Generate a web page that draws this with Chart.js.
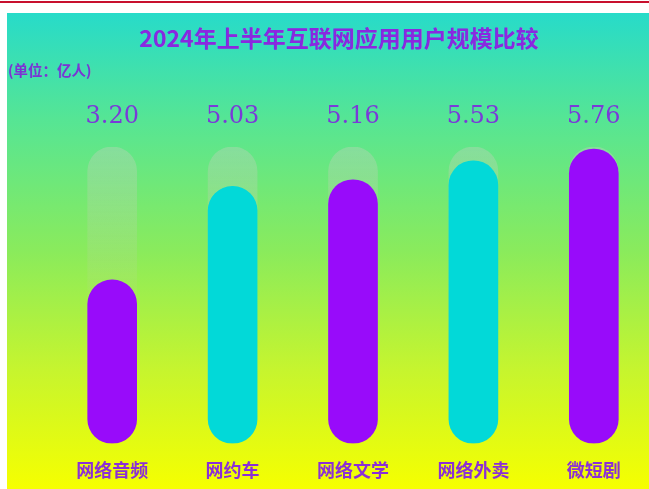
<!DOCTYPE html>
<html>
<head>
<meta charset="utf-8">
<script src="https://cdn.jsdelivr.net/npm/chart.js@4"></script>
<style>
  body { margin: 0; width: 649px; height: 489px; overflow: hidden; background: #fff; position: relative; }
  #topline { position: absolute; left: 0; top: 1px; width: 649px; height: 2px; background: #c8102e; }
  #bg { position: absolute; left: 7px; top: 13px; width: 642px; height: 476px;
        background: linear-gradient(to bottom, #27dbc9 0%, #55e595 22%, #8aeb5c 50%, #c6f52e 75%, #f6ff00 100%); }
  #title { position: absolute; left: 0; top: 20px; width: 678px; text-align: center;
           font-family: "Noto Sans CJK SC", sans-serif; font-weight: bold; font-size: 23px; color: #8a28e0; line-height: 34px; }
  #unit { position: absolute; left: 8px; top: 60px; font-family: "Noto Sans CJK SC", sans-serif;
          font-weight: bold; font-size: 14.5px; color: #7b34d4; line-height: 20px; }
  #wrap { position: absolute; left: 0; top: 0; width: 660px; height: 506px; }
</style>
</head>
<body>
<div id="topline"></div>
<div id="bg"></div>
<div id="title">2024年上半年互联网应用用户规模比较</div>
<div id="unit">(单位：亿人)</div>
<div id="wrap"><canvas id="chart"></canvas></div>
<script>
var categories = ['网络音频', '网约车', '网络文学', '网络外卖', '微短剧'];
var users = [3.20, 5.03, 5.16, 5.53, 5.76];
var track = [5.8, 5.8, 5.8, 5.8, 5.8];
var barColors = ['#980bfa', '#02d9d8', '#980bfa', '#02d9d8', '#980bfa'];

var valueLabels = {
  id: 'valueLabels',
  afterDatasetsDraw: function (chart) {
    var ctx = chart.ctx;
    var meta = chart.getDatasetMeta(0);
    ctx.save();
    ctx.font = '24px "DejaVu Serif", serif';
    ctx.fillStyle = '#7a3ad8';
    ctx.textAlign = 'center';
    ctx.textBaseline = 'middle';
    for (var i = 0; i < meta.data.length; i++) {
      ctx.fillText(users[i].toFixed(2), meta.data[i].x, chart.chartArea.top - 30);
    }
    ctx.restore();
  }
};

function trackFill(context) {
  var area = context.chart.chartArea;
  if (!area) return 'rgba(210,210,200,0.2)';
  var g = context.chart.ctx.createLinearGradient(0, area.top, 0, area.bottom);
  g.addColorStop(0, 'rgba(215,205,200,0.32)');
  g.addColorStop(0.5, 'rgba(215,205,200,0.08)');
  g.addColorStop(1, 'rgba(215,205,200,0)');
  return g;
}

new Chart(document.getElementById('chart'), {
  type: 'bar',
  data: {
    labels: categories,
    datasets: [{
      data: users,
      backgroundColor: barColors,
      order: 0
    }, {
      data: track,
      backgroundColor: trackFill,
      order: 1
    }]
  },
  options: {
    responsive: true,
    maintainAspectRatio: false,
    animation: false,
    layout: { padding: { left: 52, right: 6, top: 147, bottom: 9 } },
    datasets: {
      bar: { grouped: false, barThickness: 49, borderRadius: 25, borderSkipped: false }
    },
    plugins: { legend: { display: false }, tooltip: { enabled: false } },
    scales: {
      y: { display: false, min: 0, max: 5.8 },
      x: {
        grid: { display: false, drawTicks: false },
        border: { display: false },
        ticks: {
          padding: 16,
          color: '#8b2fd6',
          font: { family: '"Noto Sans CJK SC", sans-serif', size: 18, weight: 'bold' }
        }
      }
    }
  },
  plugins: [valueLabels]
});
</script>
</body>
</html>
